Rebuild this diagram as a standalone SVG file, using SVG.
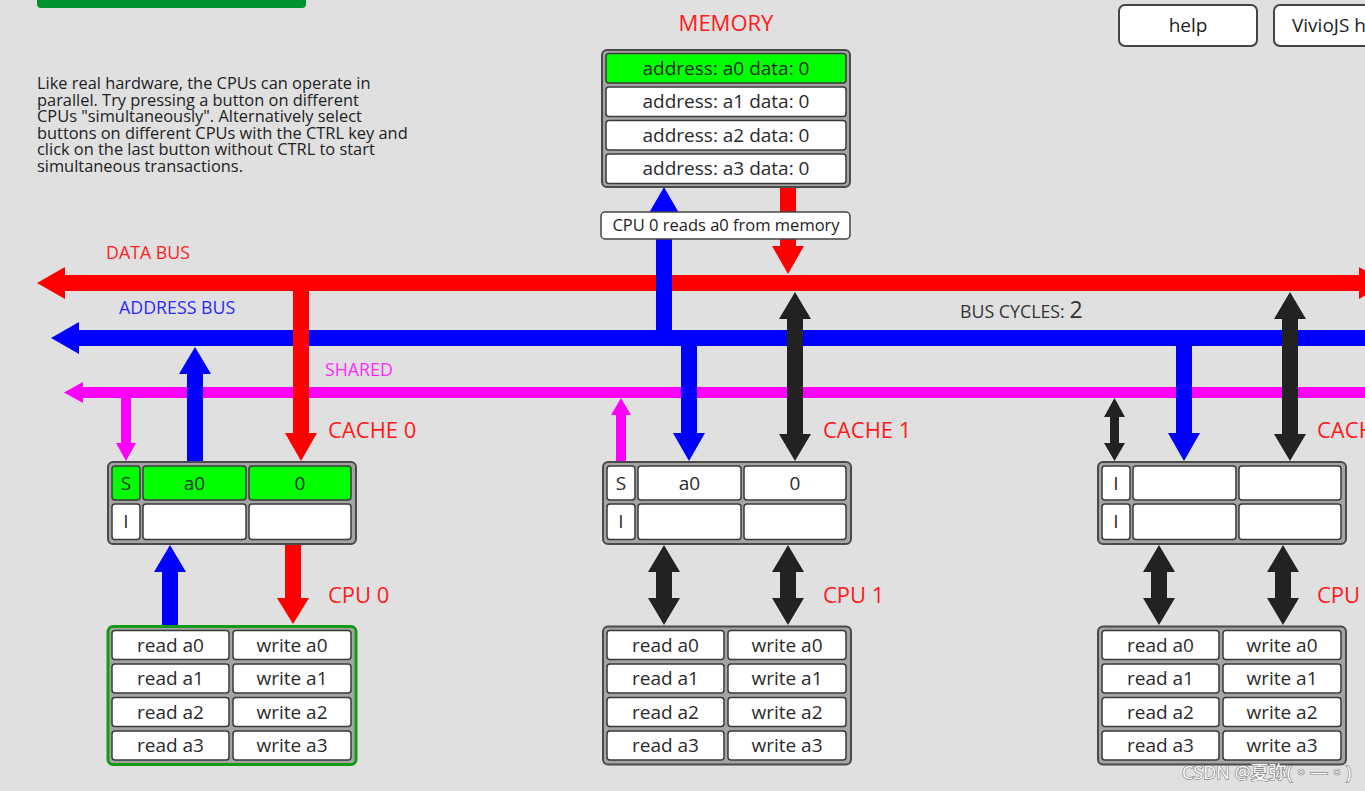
<svg xmlns="http://www.w3.org/2000/svg" width="1365" height="791" viewBox="0 0 1365 791">
<style>
text{font-family:"Open Sans","Noto Sans","Noto Sans CJK SC",sans-serif;}
.para{font-size:16.4px;fill:#222;}
.lbl{font-size:22px;fill:#ff1a1a;}
.busl{font-size:17.8px;}
.cell{fill:#fff;stroke:#3a3a3a;stroke-width:1.5;}
.green{fill:#00ff00;}
.frame{fill:#a4a4a4;stroke:#4a4a4a;stroke-width:2;}
.ct{font-size:19px;fill:#2a2a2a;text-anchor:middle;}
.bt{font-size:19px;fill:#2a2a2a;text-anchor:middle;}
.blk{fill:#222;}
.red{fill:#ff0000;}
.blue{fill:#0000ff;}
.mag{fill:#ff00ff;}
.btn{fill:#fff;stroke:#444;stroke-width:2;}
</style>
<rect x="0" y="0" width="1365" height="791" fill="#e0e0e0"/>

<g id="topbar"><rect x="37" y="-6" width="269" height="14" rx="4" fill="#00922c"/></g>

<g id="help-text">
<text class="para" x="37" y="89">Like real hardware, the CPUs can operate in</text>
<text class="para" x="37" y="105.5">parallel. Try pressing a button on different</text>
<text class="para" x="37" y="122">CPUs "simultaneously". Alternatively select</text>
<text class="para" x="37" y="138.5">buttons on different CPUs with the CTRL key and</text>
<text class="para" x="37" y="155">click on the last button without CTRL to start</text>
<text class="para" x="37" y="171.5">simultaneous transactions.</text>
</g>

<g id="buttons">
<rect class="btn" x="1119" y="5" width="138" height="41" rx="6"/>
<text x="1188" y="32" font-size="19" fill="#222" text-anchor="middle">help</text>
<rect class="btn" x="1274" y="5" width="140" height="41" rx="6"/>
<text x="1292" y="32" font-size="19" fill="#222">VivioJS help</text>
</g>

<g id="connectors">
<rect class="red" x="64" y="275" width="1296" height="16"/>
<polygon class="red" points="37,283 65,267 65,299"/>
<polygon class="red" points="1359,267 1387,283 1359,299"/>
<rect class="blue" x="78" y="330" width="1287" height="16"/>
<polygon class="blue" points="51,338 79,322 79,354"/>
<rect class="mag" x="82" y="387" width="1283" height="11"/>
<polygon class="mag" points="64,392.5 83,382 83,403"/>

<path class="blue" d="M656,330 L672,330 L672,213 L679,213 L664,187 L649,213 L656,213 Z"/>
<path class="red" d="M780,187 L796,187 L796,246 L804,246 L788,274 L772,246 L780,246 Z"/>

<path class="mag" d="M121,398 L131,398 L131,443 L136,443 L126,461 L116,443 L121,443 Z"/>
<path class="blue" d="M187,462 L203,462 L203,374 L211,374 L195,347 L179,374 L187,374 Z"/>
<path class="red" d="M293,291 L309,291 L309,433 L317,433 L301,461 L285,433 L293,433 Z"/>
<path class="blue" d="M162,625 L178,625 L178,572 L186,572 L170,545 L154,572 L162,572 Z"/>
<path class="red" d="M285,544 L301,544 L301,598 L309,598 L293,624 L277,598 L285,598 Z"/>

<path class="mag" d="M616,461 L626,461 L626,415 L631,415 L621,398 L611,415 L616,415 Z"/>
<path class="blue" d="M681,346 L697,346 L697,433 L705,433 L689,461 L673,433 L681,433 Z"/>
<path class="blk" d="M795,292 L811,319 L803,319 L803,434 L811,434 L795,461 L779,434 L787,434 L787,319 L779,319 Z"/>
<path class="blk" d="M664,545 L680,572 L672,572 L672,598 L680,598 L664,625 L648,598 L656,598 L656,572 L648,572 Z"/>
<path class="blk" d="M788,545 L804,572 L796,572 L796,598 L804,598 L788,625 L772,598 L780,598 L780,572 L772,572 Z"/>

<path class="blk" d="M1114.5,398 L1125,417 L1119,417 L1119,443 L1125,443 L1114.5,461 L1104,443 L1110,443 L1110,417 L1104,417 Z"/>
<path class="blue" d="M1176,346 L1192,346 L1192,433 L1200,433 L1184,461 L1168,433 L1176,433 Z"/>
<path class="blk" d="M1290,292 L1306,319 L1298,319 L1298,434 L1306,434 L1290,461 L1274,434 L1282,434 L1282,319 L1274,319 Z"/>
<path class="blk" d="M1159,545 L1175,572 L1167,572 L1167,598 L1175,598 L1159,625 L1143,598 L1151,598 L1151,572 L1143,572 Z"/>
<path class="blk" d="M1283,545 L1299,572 L1291,572 L1291,598 L1299,598 L1283,625 L1267,598 L1275,598 L1275,572 L1267,572 Z"/>
</g>

<g id="bus-labels">
<text class="busl" x="106" y="259" fill="#ff2020">DATA BUS</text>
<text class="busl" x="119" y="314" fill="#2a2aff">ADDRESS BUS</text>
<text class="busl" x="325" y="376" fill="#ff2aff">SHARED</text>
<text x="960" y="318" fill="#333"><tspan font-size="17.8">BUS CYCLES: </tspan><tspan font-size="23">2</tspan></text>
</g>

<g id="memory">
<text class="lbl" x="726" y="31" text-anchor="middle">MEMORY</text>
<rect class="frame" x="602" y="50" width="248" height="137" rx="5"/>
<rect class="cell green" x="606" y="53.5" width="240" height="29.5" rx="3"/>
<rect class="cell" x="606" y="87" width="240" height="29.5" rx="3"/>
<rect class="cell" x="606" y="120.5" width="240" height="29.5" rx="3"/>
<rect class="cell" x="606" y="154" width="240" height="29.5" rx="3"/>
<text class="ct" x="726" y="74.5">address: a0 data: 0</text>
<text class="ct" x="726" y="108">address: a1 data: 0</text>
<text class="ct" x="726" y="141.5">address: a2 data: 0</text>
<text class="ct" x="726" y="175">address: a3 data: 0</text>
</g>

<g id="status">
<rect x="601" y="212" width="249" height="27" rx="4" fill="#fff" stroke="#444" stroke-width="1.5"/>
<text x="726" y="231" font-size="16.5" fill="#222" text-anchor="middle">CPU 0 reads a0 from memory</text>
</g>

<g id="cache0">
<text class="lbl" x="328" y="438">CACHE 0</text>
<rect class="frame" x="108" y="462" width="248" height="82" rx="5"/>
<rect class="cell green" x="112" y="466" width="28" height="34" rx="3"/>
<rect class="cell green" x="143" y="466" width="103" height="34" rx="3"/>
<rect class="cell green" x="249" y="466" width="102" height="34" rx="3"/>
<rect class="cell" x="112" y="504" width="28" height="35.5" rx="3"/>
<rect class="cell" x="143" y="504" width="103" height="35.5" rx="3"/>
<rect class="cell" x="249" y="504" width="102" height="35.5" rx="3"/>
<text class="ct" x="126" y="490">S</text>
<text class="ct" x="194.5" y="490">a0</text>
<text class="ct" x="300" y="490">0</text>
<text class="ct" x="126" y="528">I</text>
</g>

<g id="cpu0">
<text class="lbl" x="328" y="603">CPU 0</text>
<rect x="108" y="626.5" width="248" height="138" rx="5" fill="#a4a4a4" stroke="#159a15" stroke-width="3"/>
<rect class="cell" x="112" y="630.5" width="117" height="29" rx="3" stroke="#ff0000" stroke-width="2"/>
<rect class="cell" x="233" y="630.5" width="118" height="29" rx="3"/>
<rect class="cell" x="112" y="664" width="117" height="29" rx="3"/>
<rect class="cell" x="233" y="664" width="118" height="29" rx="3"/>
<rect class="cell" x="112" y="697.5" width="117" height="29" rx="3"/>
<rect class="cell" x="233" y="697.5" width="118" height="29" rx="3"/>
<rect class="cell" x="112" y="731" width="117" height="29" rx="3"/>
<rect class="cell" x="233" y="731" width="118" height="29" rx="3"/>
<text class="bt" x="170.5" y="651.5">read a0</text>
<text class="bt" x="292" y="651.5">write a0</text>
<text class="bt" x="170.5" y="685">read a1</text>
<text class="bt" x="292" y="685">write a1</text>
<text class="bt" x="170.5" y="718.5">read a2</text>
<text class="bt" x="292" y="718.5">write a2</text>
<text class="bt" x="170.5" y="752">read a3</text>
<text class="bt" x="292" y="752">write a3</text>
</g>

<g id="cache1" transform="translate(495,0)">
<text class="lbl" x="328" y="438">CACHE 1</text>
<rect class="frame" x="108" y="462" width="248" height="82" rx="5"/>
<rect class="cell" x="112" y="466" width="28" height="34" rx="3"/>
<rect class="cell" x="143" y="466" width="103" height="34" rx="3"/>
<rect class="cell" x="249" y="466" width="102" height="34" rx="3"/>
<rect class="cell" x="112" y="504" width="28" height="35.5" rx="3"/>
<rect class="cell" x="143" y="504" width="103" height="35.5" rx="3"/>
<rect class="cell" x="249" y="504" width="102" height="35.5" rx="3"/>
<text class="ct" x="126" y="490">S</text>
<text class="ct" x="194.5" y="490">a0</text>
<text class="ct" x="300" y="490">0</text>
<text class="ct" x="126" y="528">I</text>
</g>

<g id="cpu1" transform="translate(495,0)">
<text class="lbl" x="328" y="603">CPU 1</text>
<rect class="frame" x="108" y="626.5" width="248" height="138" rx="5"/>
<rect class="cell" x="112" y="630.5" width="117" height="29" rx="3"/>
<rect class="cell" x="233" y="630.5" width="118" height="29" rx="3"/>
<rect class="cell" x="112" y="664" width="117" height="29" rx="3"/>
<rect class="cell" x="233" y="664" width="118" height="29" rx="3"/>
<rect class="cell" x="112" y="697.5" width="117" height="29" rx="3"/>
<rect class="cell" x="233" y="697.5" width="118" height="29" rx="3"/>
<rect class="cell" x="112" y="731" width="117" height="29" rx="3"/>
<rect class="cell" x="233" y="731" width="118" height="29" rx="3"/>
<text class="bt" x="170.5" y="651.5">read a0</text>
<text class="bt" x="292" y="651.5">write a0</text>
<text class="bt" x="170.5" y="685">read a1</text>
<text class="bt" x="292" y="685">write a1</text>
<text class="bt" x="170.5" y="718.5">read a2</text>
<text class="bt" x="292" y="718.5">write a2</text>
<text class="bt" x="170.5" y="752">read a3</text>
<text class="bt" x="292" y="752">write a3</text>
</g>

<g id="cache2" transform="translate(990,0)">
<text class="lbl" x="327" y="438">CACHE 2</text>
<rect class="frame" x="108" y="462" width="248" height="82" rx="5"/>
<rect class="cell" x="112" y="466" width="28" height="34" rx="3"/>
<rect class="cell" x="143" y="466" width="103" height="34" rx="3"/>
<rect class="cell" x="249" y="466" width="102" height="34" rx="3"/>
<rect class="cell" x="112" y="504" width="28" height="35.5" rx="3"/>
<rect class="cell" x="143" y="504" width="103" height="35.5" rx="3"/>
<rect class="cell" x="249" y="504" width="102" height="35.5" rx="3"/>
<text class="ct" x="126" y="490">I</text>
<text class="ct" x="126" y="528">I</text>
</g>

<g id="cpu2" transform="translate(990,0)">
<text class="lbl" x="327" y="603">CPU 2</text>
<rect class="frame" x="108" y="626.5" width="248" height="138" rx="5"/>
<rect class="cell" x="112" y="630.5" width="117" height="29" rx="3"/>
<rect class="cell" x="233" y="630.5" width="118" height="29" rx="3"/>
<rect class="cell" x="112" y="664" width="117" height="29" rx="3"/>
<rect class="cell" x="233" y="664" width="118" height="29" rx="3"/>
<rect class="cell" x="112" y="697.5" width="117" height="29" rx="3"/>
<rect class="cell" x="233" y="697.5" width="118" height="29" rx="3"/>
<rect class="cell" x="112" y="731" width="117" height="29" rx="3"/>
<rect class="cell" x="233" y="731" width="118" height="29" rx="3"/>
<text class="bt" x="170.5" y="651.5">read a0</text>
<text class="bt" x="292" y="651.5">write a0</text>
<text class="bt" x="170.5" y="685">read a1</text>
<text class="bt" x="292" y="685">write a1</text>
<text class="bt" x="170.5" y="718.5">read a2</text>
<text class="bt" x="292" y="718.5">write a2</text>
<text class="bt" x="170.5" y="752">read a3</text>
<text class="bt" x="292" y="752">write a3</text>
</g>

<g id="watermark">
<text x="1182" y="779" font-size="18" fill="#ffffff" stroke="#8a8a8a" stroke-width="1.4" paint-order="stroke">CSDN @夏弥(◦—◦)</text>
</g>
</svg>
